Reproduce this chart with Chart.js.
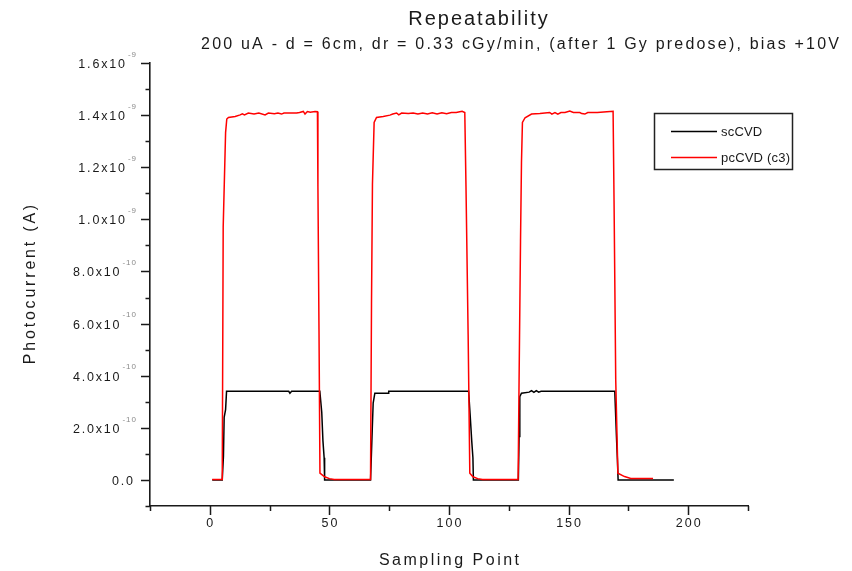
<!DOCTYPE html>
<html>
<head>
<meta charset="utf-8">
<title>Repeatability</title>
<script src="https://cdn.jsdelivr.net/npm/chart.js@4.4.1/dist/chart.umd.min.js"></script>
<style>
  html, body { margin: 0; padding: 0; background: #ffffff; }
  canvas { display: block; }
</style>
</head>
<body>
<canvas id="chart" width="852" height="571"></canvas>
<script>
// Photocurrent readings (A) against sampling point, three irradiation cycles.
const scSamplingPoint = [1, 5.2, 5.7, 6.0, 6.6, 7.0, 33.0, 33.5, 34.2, 46.0, 46.8, 47.3, 47.8, 48.0,
  67.2, 67.9, 68.3, 69.0, 74.5, 74.8, 108.2, 108.8, 109.5, 110.0, 110.2,
  129.0, 129.3, 129.6, 130.3, 133.5, 134.5, 135.5, 136.5, 137.5, 138.5, 169.3, 170.0, 170.4, 170.7, 194];
const scCVD = [0, 0, 0.09e-9, 0.24e-9, 0.27e-9, 0.34e-9, 0.34e-9, 0.333e-9, 0.34e-9, 0.34e-9, 0.26e-9, 0.15e-9, 0.085e-9, 0,
  0, 0.19e-9, 0.295e-9, 0.333e-9, 0.333e-9, 0.34e-9, 0.34e-9, 0.256e-9, 0.15e-9, 0.085e-9, 0,
  0, 0.167e-9, 0.32e-9, 0.333e-9, 0.337e-9, 0.343e-9, 0.336e-9, 0.343e-9, 0.337e-9, 0.34e-9, 0.34e-9, 0.167e-9, 0.08e-9, 0, 0];

const pcSamplingPoint = [1, 5.2, 5.6, 6.6, 7.1, 7.8, 10.6, 12.7, 13.6, 14.5, 16.1, 18.5, 20.5, 23.1, 24.5, 27.0, 28.5, 30.0, 31.0,
  36.3, 37.5, 39.1, 39.8, 40.8, 42.0, 44.0, 45.0, 45.2, 45.65, 46.05, 48.0, 50.0, 52.0,
  67.2, 67.6, 68.0, 68.7, 69.7, 72.5, 75.3, 76.5, 78.1, 79.0, 80.2, 83.0, 85.0, 87.0, 89.0, 91.0, 93.0, 95.0, 97.0, 99.0,
  101.0, 103.0, 104.5, 105.5, 106.6, 107.1, 108.0, 108.7, 110.0, 112.0, 114.0,
  128.9, 129.3, 129.9, 130.3, 130.7, 131.8, 134.5, 138.0, 142.1, 143.0, 144.3, 145.5, 146.8, 148.5, 150.5, 152.0,
  154.7, 155.5, 156.8, 158.0, 162.0, 166.0, 168.6, 169.0, 169.7, 170.6, 173.4, 176.0, 185.3];
const pcCVD = [0.002e-9, 0.002e-9, 0.97e-9, 1.333e-9, 1.385e-9, 1.391e-9, 1.395e-9, 1.401e-9, 1.405e-9, 1.401e-9, 1.408e-9, 1.404e-9, 1.408e-9, 1.401e-9, 1.408e-9, 1.405e-9, 1.408e-9, 1.404e-9, 1.408e-9,
  1.408e-9, 1.41e-9, 1.414e-9, 1.404e-9, 1.414e-9, 1.411e-9, 1.414e-9, 1.413e-9, 1.128e-9, 0.577e-9, 0.026e-9, 0.012e-9, 0.005e-9, 0.002e-9,
  0.002e-9, 0.673e-9, 1.135e-9, 1.372e-9, 1.391e-9, 1.395e-9, 1.4e-9, 1.404e-9, 1.408e-9, 1.401e-9, 1.408e-9, 1.406e-9, 1.408e-9, 1.404e-9, 1.408e-9, 1.404e-9, 1.409e-9, 1.404e-9, 1.409e-9, 1.405e-9,
  1.41e-9, 1.41e-9, 1.413e-9, 1.415e-9, 1.41e-9, 1.128e-9, 0.558e-9, 0.026e-9, 0.012e-9, 0.005e-9, 0.002e-9,
  0.002e-9, 0.385e-9, 0.917e-9, 1.218e-9, 1.372e-9, 1.39e-9, 1.404e-9, 1.406e-9, 1.41e-9, 1.404e-9, 1.41e-9, 1.404e-9, 1.41e-9, 1.41e-9, 1.416e-9, 1.41e-9,
  1.41e-9, 1.406e-9, 1.404e-9, 1.41e-9, 1.41e-9, 1.413e-9, 1.415e-9, 1.07e-9, 0.385e-9, 0.026e-9, 0.013e-9, 0.006e-9, 0.006e-9];

const seriesNames = ['scCVD', 'pcCVD (c3)'];

// Axis ticks and labels
const xMajorTicks = [0, 50, 100, 150, 200];
const xMinorTicks = [-25, 25, 75, 125, 175, 225];
const xTickLabels = ['0', '50', '100', '150', '200'];
const yMajorTicks = [0, 2e-10, 4e-10, 6e-10, 8e-10, 1.0e-9, 1.2e-9, 1.4e-9, 1.6e-9];
const yMinorTicks = [-1e-10, 1e-10, 3e-10, 5e-10, 7e-10, 9e-10, 1.1e-9, 1.3e-9, 1.5e-9];
const yTickLabels = ['0.0', '2.0x10', '4.0x10', '6.0x10', '8.0x10', '1.0x10', '1.2x10', '1.4x10', '1.6x10'];
const yTickExponents = ['', '-10', '-10', '-10', '-10', '-9', '-9', '-9', '-9'];

const chartTitle = 'Repeatability';
const chartSubtitle = '200 uA - d = 6cm, dr = 0.33 cGy/min, (after 1 Gy predose), bias +10V';
const xAxisTitle = 'Sampling Point';
const yAxisTitle = 'Photocurrent (A)';

const FONT = "'Liberation Sans', Arial, Helvetica, sans-serif";
const INK = '#1a1a1a';

function toPoints(xs, ys) {
  return xs.map((x, i) => ({ x: x, y: ys[i] }));
}

// Draws a string with extra tracking; returns its drawn width.
function spacedText(ctx, text, x, y, size, spacing, align, color) {
  ctx.font = size + 'px ' + FONT;
  ctx.letterSpacing = '0px';
  const w = ctx.measureText(text).width + spacing * (text.length - 1);
  const left = align === 'center' ? x - w / 2 : (align === 'right' ? x - w : x);
  ctx.letterSpacing = spacing + 'px';
  ctx.textAlign = 'left';
  ctx.textBaseline = 'middle';
  ctx.fillStyle = color;
  ctx.fillText(text, left, y);
  ctx.letterSpacing = '0px';
  return w;
}

// Origin-style frame: outward ticks, superscript exponents, titles and boxed legend.
const frameDecor = {
  id: 'frameDecor',
  afterDraw(chart) {
    const { ctx, chartArea: area, scales } = chart;
    const xs = scales.x, ys = scales.y;
    ctx.save();

    // tick marks
    ctx.strokeStyle = INK;
    ctx.lineWidth = 1.5;
    ctx.beginPath();
    yMajorTicks.forEach(v => {
      const p = Math.round(ys.getPixelForValue(v)) + 0.5;
      ctx.moveTo(area.left - 9, p); ctx.lineTo(area.left, p);
    });
    yMinorTicks.forEach(v => {
      const p = Math.round(ys.getPixelForValue(v)) + 0.5;
      ctx.moveTo(area.left - 4.5, p); ctx.lineTo(area.left, p);
    });
    xMajorTicks.forEach(v => {
      const p = Math.round(xs.getPixelForValue(v)) + 0.5;
      ctx.moveTo(p, area.bottom); ctx.lineTo(p, area.bottom + 9);
    });
    xMinorTicks.forEach(v => {
      const p = Math.round(xs.getPixelForValue(v)) + 0.5;
      ctx.moveTo(p, area.bottom); ctx.lineTo(p, area.bottom + 5);
    });
    ctx.stroke();

    // y tick labels with superscript exponents
    const labelRight = area.left - 14;
    yMajorTicks.forEach((v, i) => {
      const p = ys.getPixelForValue(v);
      const exp = yTickExponents[i];
      if (exp) {
        const ew = spacedText(ctx, exp, labelRight, p - 8.5, 8, 1, 'right', '#8a8a8a');
        spacedText(ctx, yTickLabels[i], labelRight - ew - 3, p + 1.5, 12.5, 1.8, 'right', INK);
      } else {
        spacedText(ctx, yTickLabels[i], labelRight - 3, p + 1.5, 12.5, 1.8, 'right', INK);
      }
    });

    // x tick labels
    xMajorTicks.forEach((v, i) => {
      spacedText(ctx, xTickLabels[i], xs.getPixelForValue(v), area.bottom + 18, 12.5, 2, 'center', INK);
    });

    // axis titles
    spacedText(ctx, xAxisTitle, (area.left + area.right) / 2, area.bottom + 55, 16, 2.5, 'center', INK);
    ctx.save();
    ctx.translate(31, (area.top + area.bottom) / 2);
    ctx.rotate(-Math.PI / 2);
    spacedText(ctx, yAxisTitle, 0, 0, 16, 2.8, 'center', INK);
    ctx.restore();

    // chart titles
    spacedText(ctx, chartTitle, 478, 19, 20, 2, 'center', INK);
    spacedText(ctx, chartSubtitle, 520, 45, 16, 2.2, 'center', INK);

    // legend box
    const sets = chart.data.datasets;
    ctx.strokeStyle = '#222222';
    ctx.lineWidth = 1.5;
    ctx.strokeRect(654.5, 113.5, 138, 56);
    sets.forEach((ds, i) => {
      const ly = 131 + i * 26;
      ctx.strokeStyle = ds.borderColor;
      ctx.lineWidth = 1.5;
      ctx.beginPath();
      ctx.moveTo(671, ly + 0.5); ctx.lineTo(717, ly + 0.5);
      ctx.stroke();
      spacedText(ctx, seriesNames[i], 721, ly + 1, 13, 0.2, 'left', INK);
    });

    ctx.restore();
  }
};

new Chart(document.getElementById('chart'), {
  type: 'line',
  data: {
    datasets: [
      { label: seriesNames[0], data: toPoints(scSamplingPoint, scCVD), borderColor: '#000000',
        borderWidth: 1.5, pointRadius: 0, tension: 0, order: 1 },
      { label: seriesNames[1], data: toPoints(pcSamplingPoint, pcCVD), borderColor: '#ff0000',
        borderWidth: 1.5, pointRadius: 0, tension: 0, order: 0 }
    ]
  },
  options: {
    responsive: false,
    animation: false,
    events: [],
    layout: { padding: { left: 150, top: 63, right: 104, bottom: 65 } },
    plugins: { legend: { display: false }, title: { display: false }, tooltip: { enabled: false } },
    scales: {
      x: { type: 'linear', min: -25, max: 225,
        grid: { display: false, drawTicks: false }, ticks: { display: false },
        border: { display: true, color: INK, width: 1.6 } },
      y: { type: 'linear', min: -1e-10, max: 1.6e-9,
        grid: { display: false, drawTicks: false }, ticks: { display: false },
        border: { display: true, color: INK, width: 1.6 } }
    }
  },
  plugins: [frameDecor]
});
</script>
</body>
</html>
